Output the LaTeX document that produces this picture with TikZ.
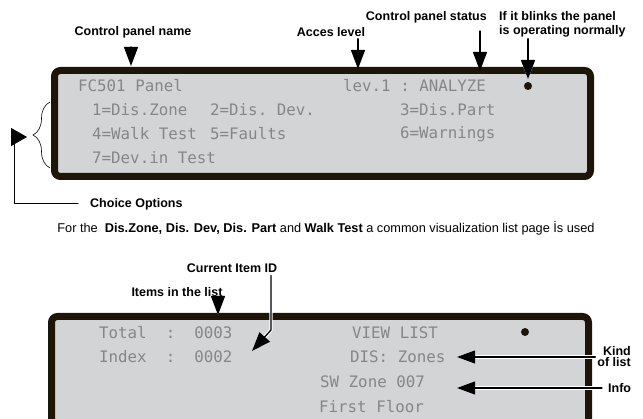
\documentclass[tikz,border=0pt]{standalone}
\usepackage{fontspec}
\setmainfont{Liberation Sans}
\setmonofont{DejaVu Sans Mono}
\usetikzlibrary{arrows.meta, calc, decorations.pathreplacing}

\definecolor{framebrown}{HTML}{1E1509}
\definecolor{lcdgray}{HTML}{D3D4D6}
\definecolor{lcdtext}{HTML}{868686}

\begin{document}
\begin{tikzpicture}[x=1pt, y=-1pt, line cap=round, line join=round,
  panel/.style={fill=lcdgray, draw=framebrown, line width=7pt, rounded corners=6pt},
  lcd/.style={anchor=west, inner sep=0pt, text=lcdtext,
    font=\fontsize{15.8}{18}\selectfont\ttfamily},
  callout/.style={inner sep=0pt, font=\fontsize{12.5}{14.5}\selectfont\bfseries},
  pointer/.style={-{Triangle[length=19pt, width=14pt]}, line width=1.3pt},
  halo/.style={preaction={draw=white, line width=3.4pt}},
]
  \useasboundingbox (0,0) rectangle (643,419);
  \clip (0,0) rectangle (643,419);

  %% ---- main menu panel ----
  \filldraw[panel] (54.5,70.5) rectangle (590.5,176.5);

  \node[lcd] (panelname) at (78,86)  {FC501 Panel};
  \node[lcd] (panellevel) at (343,86) {lev.1 : ANALYZE};
  \coordinate (blink) at (528,86);
  \fill[framebrown] (blink) circle (4pt);

  \node[lcd] (opt1) at (92,110)  {1=Dis.Zone};
  \node[lcd] (opt2) at (210,110) {2=Dis. Dev.};
  \node[lcd] (opt3) at (400,110) {3=Dis.Part};
  \node[lcd] (opt4) at (92,134)  {4=Walk Test};
  \node[lcd] (opt5) at (210,134) {5=Faults};
  \node[lcd] (opt6) at (400,134) {6=Warnings};
  \node[lcd] (opt7) at (92,158)  {7=Dev.in Test};

  %% ---- top labels ----
  \node[callout] (lblname)  at (133,32) {Control panel name};
  \node[callout] (lbllevel) at (331,32) {Acces level};
  \node[callout, anchor=east] (lblstatus) at (487,17) {Control panel status};
  \node[callout, anchor=west, align=left] (lblblink) at (499,24.5)
    {If it blinks the panel\\is operating normally};

  \coordinate (tipname)   at (131,66);
  \coordinate (tiplevel)  at (358,69);
  \coordinate (tipstatus) at (480,71);
  \coordinate (tipblink)  at (528,79);

  \draw[pointer, shorten <=9pt] (lblname.south -| tipname) -- (tipname);
  \draw[pointer, shorten <=2pt] (lbllevel.south -| tiplevel) -- (tiplevel);
  \draw[pointer, shorten <=8pt] (lblstatus.south -| tipstatus) -- (tipstatus);
  \draw[pointer, halo, shorten <=1pt] (lblblink.south -| tipblink) -- (tipblink);

  %% ---- choice options ----
  \draw[line width=0.6pt, decorate, decoration={brace, amplitude=17pt}]
    (50,168) -- (50,102);
  \coordinate (bracetip) at (33,137);
  \coordinate (elbow) at (14,137);
  \node[callout, anchor=west] (lblchoice) at (90,204) {Choice Options};
  \draw[-{Triangle[length=16pt, width=18pt]}, line width=1pt, shorten >=6pt]
    ([xshift=-12pt]lblchoice.west) -| (elbow) -- (bracetip);

  %% ---- note ----
  \node[font=\fontsize{12.75}{14}\selectfont] (note) at (326,228)
    {For the\ \ \textbf{Dis.Zone, Dis. Dev, Dis. Part} and \textbf{Walk Test} a common visualization list page İs used};

  %% ---- list page panel ----
  \filldraw[panel] (51.5,316.5) rectangle (588.5,470);

  \node[lcd] (total)    at (99,333)  {Total~~:~~0003};
  \node[lcd] (index)    at (99,357)  {Index~~:~~0002};
  \node[lcd] (viewlist) at (352,333) {VIEW LIST};
  \node[lcd] (kind)     at (350,357) {DIS: Zones};
  \node[lcd] (zone)     at (320,382) {SW Zone 007};
  \node[lcd] (floor)    at (319,407) {First Floor};
  \coordinate (blinklist) at (525,332);
  \fill[framebrown] (blinklist) circle (4pt);

  %% ---- list page labels ----
  \node[callout] (lblcurrent) at (232,268) {Current Item ID};
  \node[callout] (lblitems)   at (177,292) {Items in the list};
  \node[callout, anchor=east, align=right,
        font=\fontsize{12.5}{11}\selectfont\bfseries] (lblkind) at (631,357) {Kind\\of list};
  \node[callout, anchor=west] (lblinfo) at (608,388) {Info};

  \coordinate (tipitems)   at (218,315);
  \coordinate (bend)       at (271,330);
  \coordinate (tipcurrent) at (252,351);
  \coordinate (tipkind)    at (457,357);
  \coordinate (tipinfo)    at (457,388);

  \draw[pointer, halo] (lblitems.south -| tipitems) -- (tipitems);
  \draw[pointer, halo, shorten <=3pt] (lblcurrent.south -| bend) -- (bend) -- (tipcurrent);
  \draw[-{Triangle[length=18pt, width=13pt]}, line width=1.3pt, halo, shorten <=2pt]
    (lblkind.west) -- (tipkind);
  \draw[-{Triangle[length=18pt, width=13pt]}, line width=1.3pt, halo, shorten <=6pt]
    (lblinfo.west) -- (tipinfo);

\end{tikzpicture}
\end{document}
